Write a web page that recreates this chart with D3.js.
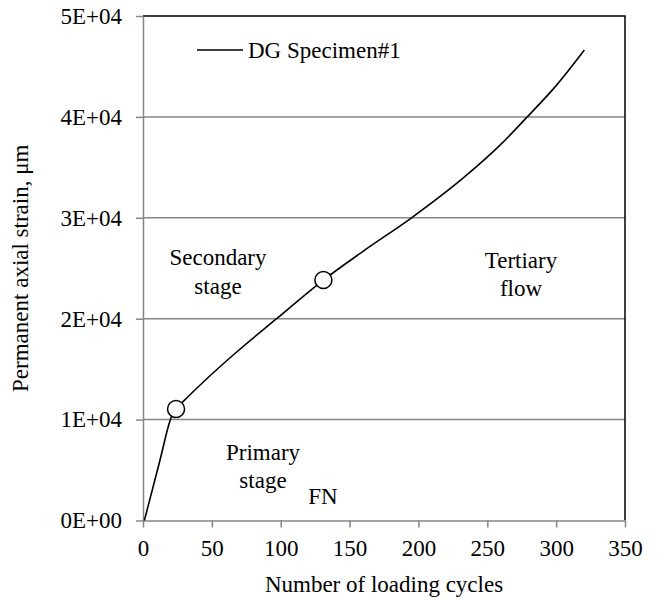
<!DOCTYPE html>
<html>
<head>
<meta charset="utf-8">
<script src="https://cdn.jsdelivr.net/npm/d3@7"></script>
<style>
  body { margin: 0; background: #fff; }
  svg text { font-family: "Liberation Serif", Tinos, "Times New Roman", Times, "DejaVu Serif", serif !important; fill: #000; }
</style>
</head>
<body>
<svg id="chart" width="659" height="600"></svg>
<script>
// Data
const cycles = [1, 12, 21, 24, 30, 44, 68, 97, 131, 160, 195, 233, 260, 279, 300, 320.5];
const strain = [0, 5800, 10400, 11050, 11900, 13750, 16700, 20000, 23830, 26700, 30000, 34000, 37300, 40000, 43100, 46630];
const stageCycles = [24, 131];
const stageStrain = [11050, 23830];
const xTicks = [0, 50, 100, 150, 200, 250, 300, 350];
const yTicks = [0, 10000, 20000, 30000, 40000, 50000];
const yTickLabels = ["0E+00", "1E+04", "2E+04", "3E+04", "4E+04", "5E+04"];

const svg = d3.select("#chart");
const margin = { left: 143, right: 34, top: 16, bottom: 79.5 };
const width = 659 - margin.left - margin.right;
const height = 600 - margin.top - margin.bottom;

const x = d3.scaleLinear().domain([0, 350]).range([0, width]);
const y = d3.scaleLinear().domain([0, 50000]).range([height, 0]);

const g = svg.append("g").attr("transform", `translate(${margin.left},${margin.top})`);

// gridlines
g.selectAll("line.grid")
  .data(yTicks.slice(1, -1))
  .enter().append("line")
  .attr("class", "grid")
  .attr("x1", 0).attr("x2", width)
  .attr("y1", d => y(d)).attr("y2", d => y(d))
  .attr("stroke", "#868686").attr("stroke-width", 1.5);

// plot border (top/right black)
g.append("path")
  .attr("d", `M0,0H${width}V${height}`)
  .attr("fill", "none").attr("stroke", "#000").attr("stroke-width", 1.5);

// axes
const fs = 23;
const xAxis = g.append("g").attr("transform", `translate(0,${height})`)
  .call(d3.axisBottom(x).tickValues(xTicks).tickSize(7).tickPadding(12).tickSizeOuter(0));
const yAxis = g.append("g")
  .call(d3.axisLeft(y).tickValues(yTicks).tickFormat((d, i) => yTickLabels[i]).tickSize(7).tickPadding(14).tickSizeOuter(0));
[xAxis, yAxis].forEach(a => {
  a.attr("font-family", null).attr("font-size", null);
  a.select(".domain").attr("stroke", "#868686").attr("stroke-width", 1.5);
  a.selectAll(".tick line").attr("stroke", "#868686").attr("stroke-width", 1.5);
  a.selectAll(".tick text").attr("font-size", fs);
});

// curve
const line = d3.line().x((d, i) => x(cycles[i])).y(d => y(d)).curve(d3.curveMonotoneX);
g.append("path")
  .datum(strain)
  .attr("d", line)
  .attr("fill", "none").attr("stroke", "#000").attr("stroke-width", 1.6);

// stage markers
g.selectAll("circle.stage")
  .data(stageCycles)
  .enter().append("circle")
  .attr("class", "stage")
  .attr("cx", d => x(d))
  .attr("cy", (d, i) => y(stageStrain[i]))
  .attr("r", 8.5)
  .attr("fill", "#fff").attr("stroke", "#000").attr("stroke-width", 1.5);

// legend
svg.append("line").attr("x1", 197).attr("x2", 243).attr("y1", 50).attr("y2", 50)
  .attr("stroke", "#000").attr("stroke-width", 1.6);
svg.append("text").attr("x", 248).attr("y", 58).attr("font-size", fs).text("DG Specimen#1");

// annotations
const notes = [
  { t: "Secondary", x: 218, y: 265 },
  { t: "stage", x: 218, y: 294 },
  { t: "Primary", x: 263, y: 460 },
  { t: "stage", x: 263, y: 488 },
  { t: "Tertiary", x: 521, y: 268 },
  { t: "flow", x: 521, y: 296 },
  { t: "FN", x: 323, y: 504 }
];
svg.selectAll("text.note")
  .data(notes)
  .enter().append("text")
  .attr("class", "note")
  .attr("x", d => d.x).attr("y", d => d.y)
  .attr("text-anchor", "middle")
  .attr("font-size", fs)
  .text(d => d.t);

// axis titles
svg.append("text")
  .attr("x", margin.left + width / 2).attr("y", 592)
  .attr("text-anchor", "middle").attr("font-size", fs)
  .text("Number of loading cycles");
svg.append("text")
  .attr("transform", `translate(28,${margin.top + height / 2}) rotate(-90)`)
  .attr("text-anchor", "middle").attr("font-size", fs)
  .text("Permanent axial strain, μm");
</script>
</body>
</html>
